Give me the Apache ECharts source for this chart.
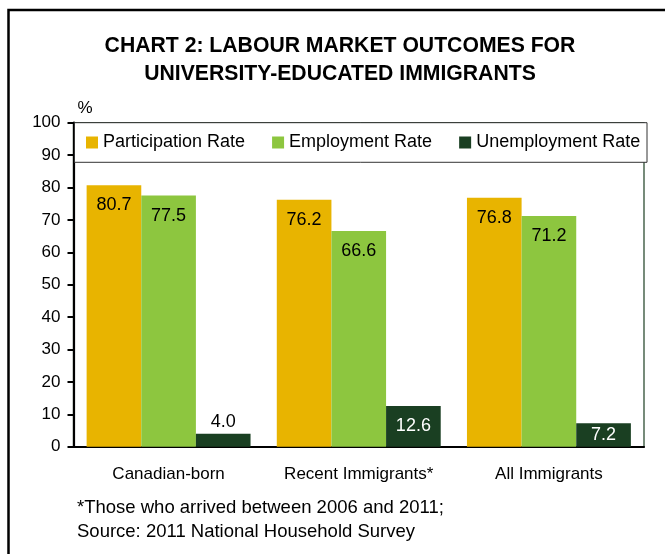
<!DOCTYPE html>
<html>
<head>
<meta charset="utf-8">
<title>Labour Market Outcomes for University-Educated Immigrants</title>
<script src="https://cdn.jsdelivr.net/npm/echarts@6/dist/echarts.min.js"></script>
<style>
  html, body { margin: 0; padding: 0; background: #ffffff; }
  #chart { width: 665px; height: 554px; }
</style>
</head>
<body>
<div id="chart"></div>
<script>
// Population groups on the category axis
const categories = ['Canadian-born', 'Recent Immigrants*', 'All Immigrants'];

// Rates in percent, 2011 National Household Survey
const participationRate = [80.7, 76.2, 76.8];
const employmentRate = [77.5, 66.6, 71.2];
const unemploymentRate = [4.0, 12.6, 7.2];

// Value axis ticks
const yTicks = [0, 10, 20, 30, 40, 50, 60, 70, 80, 90, 100];

const seriesNames = ['Participation Rate', 'Employment Rate', 'Unemployment Rate'];
const seriesColors = ['#E8B400', '#8DC63F', '#1A3F22'];

const FONT = '"Liberation Sans", Arial, sans-serif';

const chart = echarts.init(document.getElementById('chart'), null, { renderer: 'canvas' });

const fmt = p => Number(p.value).toFixed(1);

// Labels for the dark bars: short bars get their label above, others inside
const unemploymentData = unemploymentRate.map(v => {
  let label;
  if (v < 5) {
    label = { position: 'top', distance: 3, color: '#000000' };
  } else if (v < 10) {
    label = { position: 'inside', color: '#ffffff' };
  } else {
    label = { position: 'insideTop', distance: 11, color: '#ffffff' };
  }
  return { value: v, label };
});

const baseLabel = {
  show: true,
  position: 'insideTop',
  distance: 11,
  fontFamily: FONT,
  fontSize: 18,
  lineHeight: 18,
  color: '#000000',
  formatter: fmt
};

chart.setOption({
  animation: false,
  backgroundColor: '#ffffff',
  textStyle: { fontFamily: FONT },
  title: {
    text: 'CHART 2: LABOUR MARKET OUTCOMES FOR\nUNIVERSITY-EDUCATED IMMIGRANTS',
    left: 340,
    top: 32,
    textAlign: 'center',
    padding: 0,
    textStyle: {
      fontFamily: FONT,
      fontSize: 21.2,
      fontWeight: 'bold',
      lineHeight: 28,
      color: '#000000'
    }
  },
  legend: {
    data: seriesNames,
    left: 86,
    top: 133.5,
    padding: 0,
    itemWidth: 12,
    itemHeight: 12,
    itemGap: 27,
    icon: 'rect',
    selectedMode: false,
    z: 6,
    textStyle: {
      fontFamily: FONT,
      fontSize: 18,
      lineHeight: 18,
      color: '#000000'
    }
  },
  grid: {
    left: 73.5,
    right: 21,
    top: 122.7,
    bottom: 107.3,
    show: true,
    borderColor: '#2E4F34',
    borderWidth: 1.3,
    backgroundColor: 'transparent'
  },
  xAxis: {
    type: 'category',
    data: categories,
    axisLine: { show: true, lineStyle: { color: '#000000', width: 2.2 } },
    axisTick: { show: false },
    axisLabel: {
      fontFamily: FONT,
      fontSize: 17,
      lineHeight: 17,
      color: '#000000',
      margin: 19,
      interval: 0
    },
    splitLine: { show: false }
  },
  yAxis: {
    type: 'value',
    min: yTicks[0],
    max: yTicks[yTicks.length - 1],
    interval: yTicks[1] - yTicks[0],
    name: '%',
    nameLocation: 'end',
    nameGap: 6,
    nameTextStyle: {
      fontFamily: FONT,
      fontSize: 17,
      color: '#000000',
      align: 'left',
      padding: [0, 0, 0, 4]
    },
    axisLine: { show: true, lineStyle: { color: '#000000', width: 2.2 } },
    axisTick: { show: true, inside: false, length: 6, lineStyle: { color: '#000000', width: 2 } },
    axisLabel: {
      fontFamily: FONT,
      fontSize: 17,
      color: '#000000',
      margin: 13
    },
    splitLine: { show: false }
  },
  graphic: [
    {
      // outer frame of the figure
      type: 'rect',
      z: 10,
      silent: true,
      shape: { x: 8.5, y: 10, width: 720, height: 620 },
      style: { fill: 'none', stroke: '#000000', lineWidth: 2.5 }
    },
    {
      // legend box laid over the top of the plot area
      type: 'rect',
      z: 5,
      silent: true,
      shape: { x: 74.5, y: 122.7, width: 572.5, height: 39.6 },
      style: { fill: '#ffffff', stroke: '#333333', lineWidth: 1 }
    },
    {
      type: 'text',
      z: 10,
      silent: true,
      x: 77,
      y: 496,
      style: {
        text: '*Those who arrived between 2006 and 2011;\nSource: 2011 National Household Survey',
        font: '18.5px ' + FONT,
        lineHeight: 24,
        fill: '#000000',
        textAlign: 'left',
        textVerticalAlign: 'top'
      }
    }
  ],
  series: [
    {
      name: seriesNames[0],
      type: 'bar',
      data: participationRate,
      barGap: '0%',
      barCategoryGap: '13.8%',
      itemStyle: { color: seriesColors[0] },
      label: baseLabel
    },
    {
      name: seriesNames[1],
      type: 'bar',
      data: employmentRate,
      barGap: '0%',
      barCategoryGap: '13.8%',
      itemStyle: { color: seriesColors[1] },
      label: baseLabel
    },
    {
      name: seriesNames[2],
      type: 'bar',
      data: unemploymentData,
      barGap: '0%',
      barCategoryGap: '13.8%',
      itemStyle: { color: seriesColors[2] },
      label: baseLabel
    }
  ]
});
</script>
</body>
</html>
